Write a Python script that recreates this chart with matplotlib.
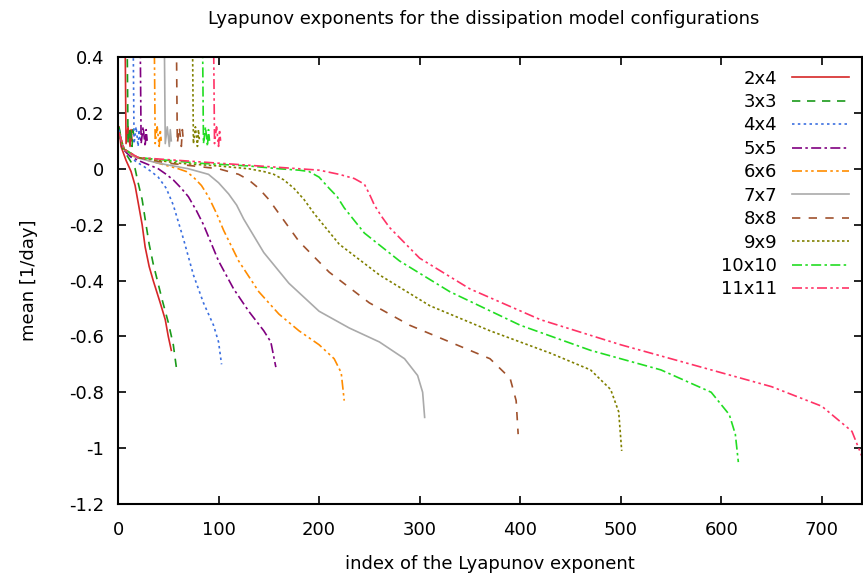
import matplotlib
matplotlib.use("Agg")
import matplotlib.pyplot as plt

# series labels and colours
labels = ["2x4", "3x3", "4x4", "5x5", "6x6", "7x7", "8x8", "9x9", "10x10", "11x11"]
colors = ["#d62728", "#1a9a1a", "#3b6fe0", "#800080", "#ff8c00", "#aaaaaa",
          "#a0522d", "#808000", "#22dd22", "#ff3366"]
styles = ["-", (0, (5, 4)), (0, (1.5, 2)), (0, (6, 2, 1.5, 2)), (0, (6, 2, 1.5, 2, 1.5, 2)),
          "-", (0, (5, 5)), (0, (1.5, 1.5)), (0, (6, 2, 1.5, 2)), (0, (6, 2, 1.5, 2, 1.5, 2))]

# control points (index, mean)
x24 = [1, 3, 8, 13, 17, 20, 24, 27, 31, 35, 42, 47, 50, 53]
y24 = [0.15, 0.08, 0.03, -0.01, -0.06, -0.12, -0.20, -0.28, -0.35, -0.40, -0.48, -0.54, -0.60, -0.65]
x33 = [1, 5, 12, 17, 20, 24, 27, 31, 35, 44, 50, 55, 58]
y33 = [0.15, 0.07, 0.03, 0.0, -0.05, -0.11, -0.18, -0.27, -0.34, -0.47, -0.55, -0.63, -0.71]
x44 = [1, 5, 10, 18, 25, 33, 40, 48, 55, 60, 65, 75, 85, 95, 100, 103]
y44 = [0.14, 0.08, 0.05, 0.025, 0.01, -0.01, -0.03, -0.07, -0.13, -0.19, -0.25, -0.38, -0.48, -0.56, -0.62, -0.70]
x55 = [1, 5, 12, 20, 30, 40, 48, 55, 63, 70, 78, 85, 100, 115, 130, 145, 152, 157]
y55 = [0.13, 0.07, 0.045, 0.03, 0.015, 0.0, -0.02, -0.04, -0.07, -0.10, -0.15, -0.20, -0.33, -0.43, -0.51, -0.58, -0.62, -0.71]
x66 = [1, 6, 15, 30, 45, 60, 68, 75, 83, 90, 98, 105, 120, 140, 160, 180, 200, 215, 222, 225]
y66 = [0.13, 0.07, 0.045, 0.03, 0.015, 0.0, -0.01, -0.03, -0.06, -0.10, -0.16, -0.22, -0.33, -0.44, -0.52, -0.58, -0.63, -0.68, -0.73, -0.83]
x77 = [1, 6, 18, 40, 55, 70, 80, 90, 100, 110, 118, 125, 145, 170, 200, 230, 260, 285, 298, 303, 305]
y77 = [0.13, 0.07, 0.04, 0.02, 0.01, 0.0, -0.01, -0.02, -0.05, -0.09, -0.13, -0.18, -0.30, -0.41, -0.51, -0.57, -0.62, -0.68, -0.74, -0.80, -0.89]
x88 = [1, 6, 20, 50, 75, 100, 110, 120, 130, 140, 150, 160, 180, 210, 250, 290, 330, 370, 390, 396, 398]
y88 = [0.13, 0.07, 0.04, 0.02, 0.01, 0.0, -0.01, -0.02, -0.04, -0.07, -0.11, -0.16, -0.26, -0.37, -0.48, -0.56, -0.62, -0.68, -0.75, -0.83, -0.95]
x99 = [1, 6, 20, 60, 100, 130, 145, 155, 165, 175, 185, 195, 220, 260, 310, 370, 430, 470, 490, 498, 501]
y99 = [0.13, 0.07, 0.04, 0.02, 0.01, 0.0, -0.01, -0.02, -0.04, -0.07, -0.11, -0.16, -0.27, -0.38, -0.49, -0.58, -0.66, -0.72, -0.79, -0.87, -1.01]
x1010 = [1, 6, 20, 80, 130, 160, 180, 190, 200, 210, 218, 225, 245, 280, 330, 400, 470, 540, 590, 608, 614, 617]
y1010 = [0.13, 0.07, 0.04, 0.02, 0.01, 0.0, -0.005, -0.01, -0.03, -0.07, -0.10, -0.14, -0.23, -0.33, -0.44, -0.56, -0.65, -0.72, -0.80, -0.88, -0.95, -1.05]
x1111 = [1, 6, 20, 100, 160, 200, 220, 235, 245, 250, 255, 262, 270, 300, 350, 420, 500, 580, 650, 700, 730, 740]
y1111 = [0.13, 0.07, 0.04, 0.02, 0.005, -0.005, -0.02, -0.035, -0.055, -0.09, -0.13, -0.17, -0.21, -0.32, -0.43, -0.54, -0.63, -0.71, -0.78, -0.85, -0.94, -1.03]

# positive exponents shooting off the top
spike_x = [8, 10, 16, 23, 37, 47, 59, 75, 85, 96]
spike_dx = [-1, 0, 2, 4, 5, 6]
spike_y = [0.5, 0.09, 0.15, 0.08, 0.14, 0.10]

xs = [x24, x33, x44, x55, x66, x77, x88, x99, x1010, x1111]
ys = [y24, y33, y44, y55, y66, y77, y88, y99, y1010, y1111]

fig = plt.figure(figsize=(8.63, 5.81), dpi=100)
ax = fig.add_axes([118 / 863, 1 - 504 / 581, 744 / 863, 447 / 581])

for i in range(len(labels)):
    ax.plot(xs[i], ys[i], color=colors[i], linestyle=styles[i], lw=1.2, label=labels[i])
    ax.plot([spike_x[i] + d for d in spike_dx], spike_y, color=colors[i],
            linestyle=styles[i], lw=1.2)

ax.set_xlim(0, 740)
ax.set_ylim(-1.2, 0.4)
ax.set_xticks(range(0, 701, 100))
ax.set_yticks([-1.2, -1, -0.8, -0.6, -0.4, -0.2, 0, 0.2, 0.4])
ax.set_yticklabels(["-1.2", "-1", "-0.8", "-0.6", "-0.4", "-0.2", "0", "0.2", "0.4"])
ax.tick_params(direction="in", top=True, right=True, labelsize=13, length=6, width=1.2)
ax.tick_params(axis="x", pad=12)
ax.tick_params(axis="y", pad=10)
for s in ax.spines.values():
    s.set_linewidth(1.5)
ax.set_xlabel("index of the Lyapunov exponent", fontsize=13, labelpad=12)
ax.set_ylabel("mean [1/day]", fontsize=13, labelpad=22)
fig.text(0.56, 0.968, "Lyapunov exponents for the dissipation model configurations",
         ha="center", va="center", fontsize=13)
leg = ax.legend(loc="upper right", markerfirst=False, frameon=False, fontsize=13,
                handlelength=3.2, labelspacing=0.3, borderaxespad=0.3)
for t in leg.get_texts():
    t.set_ha("right")
fig.savefig("out.png", dpi=100)
